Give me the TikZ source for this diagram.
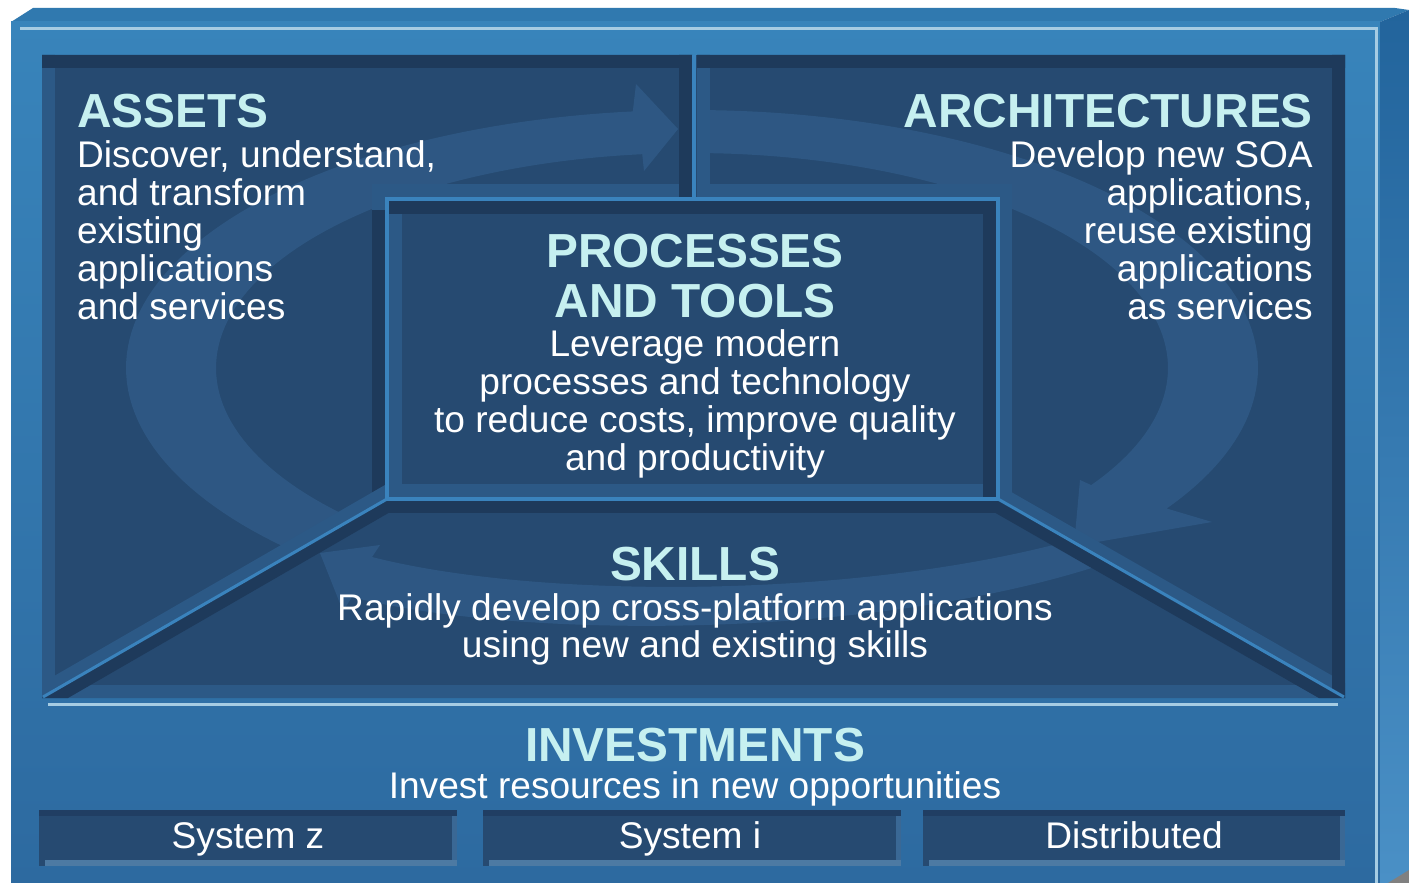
\documentclass[tikz,border=0pt]{standalone}
\usepackage{fontspec}
\setmainfont{Liberation Sans}
\definecolor{frontTop}{HTML}{3884BB}
\definecolor{frontBot}{HTML}{2D6AA0}
\definecolor{topface}{HTML}{3079AF}
\definecolor{sideTop}{HTML}{22649C}
\definecolor{sideBot}{HTML}{4A90C6}
\definecolor{hl}{HTML}{A6CCE3}
\definecolor{panel}{HTML}{264A71}
\definecolor{bdark}{HTML}{1E3A5B}
\definecolor{blight}{HTML}{2C5986}
\definecolor{sepc}{HTML}{3A83BD}
\definecolor{ringc}{HTML}{34618F}
\definecolor{titlec}{HTML}{C6F0F0}
\definecolor{boxtop}{HTML}{203E63}
\definecolor{boxbot}{HTML}{4D7AA3}
\definecolor{boxside}{HTML}{3A6895}
\begin{document}
\begin{tikzpicture}[x=1pt,y=-1pt,
  bev/.style={line width=26pt,line cap=rect},
  ringfill/.style={fill=ringc,fill opacity=0.6},
  sepline/.style={draw=sepc,line width=4pt},
  titletext/.style={font=\fontsize{47.8}{50}\selectfont\bfseries,text=titlec,inner sep=0pt},
  bodytext/.style={font=\fontsize{37.1}{38}\selectfont,text=white,inner sep=0pt},
  sysbox/.style={fill=panel}]
\useasboundingbox (0,0) rectangle (1409,883);
\fill[white] (0,0) rectangle (1409,883);
% outer 3D frame
\fill[topface] (11,22) -- (33,8) -- (1395,8) -- (1409,10) -- (1380,22) -- cycle;
\shade[top color=frontTop,bottom color=frontBot] (11,22) rectangle (1380,883);
\shade[top color=sideTop,bottom color=sideBot] (1380,22) -- (1409,10) -- (1409,883) -- (1380,883) -- cycle;
\draw[hl,line width=3pt] (20,29) -- (1376,29) -- (1376,883);
\draw[hl,line width=3pt] (48,704) -- (1338,704);
\fill[gray] (1409,870) -- (1409,883) -- (1388,883) -- cycle;
% inner panel
\fill[panel] (42,55) rectangle (1345,698);
% ASSETS region: ring and bevels
\begin{scope}
\clip (42,55) -- (692,55) -- (692,197) -- (385,197) -- (385,500) -- (42,698) -- cycle;
\fill[ringfill] plot[domain=120:264,samples=90] ({692+566*cos(\x)},{368+258*sin(\x)})
  -- (636,84) -- (678,129) -- (644,171)
  -- plot[domain=264:120,samples=90] ({692+476*cos(\x)},{368+215*sin(\x)}) -- cycle;
\draw[bev,bdark] (385,197) -- (385,500);
\draw[bev,blight] (42,55) -- (42,698);
\draw[bev,blight] (385,500) -- (42,698);
\draw[bev,blight] (692,197) -- (385,197);
\draw[bev,bdark] (42,55) -- (692,55);
\draw[bev,bdark] (692,55) -- (692,197);
\end{scope}
% ARCHITECTURES region
\begin{scope}
\clip (697,55) -- (1345,55) -- (1345,698) -- (999,500) -- (999,197) -- (697,197) -- cycle;
\fill[ringfill] plot[domain=-100:33,samples=90] ({692+566*cos(\x)},{368+258*sin(\x)})
  -- (1212,522) -- (1074,546) -- (1080,480)
  -- plot[domain=33:-100,samples=90] ({692+476*cos(\x)},{368+215*sin(\x)}) -- cycle;
\draw[bev,blight] (697,55) -- (697,197);
\draw[bev,blight] (697,197) -- (999,197);
\draw[bev,blight] (999,197) -- (999,500);
\draw[bev,blight] (999,500) -- (1345,698);
\draw[bev,bdark] (697,55) -- (1345,55);
\draw[bev,bdark] (1345,55) -- (1345,698);
\end{scope}
% SKILLS region
\begin{scope}
\clip (385,500) -- (999,500) -- (1345,698) -- (42,698) -- cycle;
\fill[ringfill] (1090,535) .. controls (870,600) and (540,600) .. (372,557)
  -- (380,545) -- (320,553) -- (343,611) -- (352,597)
  .. controls (520,640) and (880,640) .. (1110,562) -- cycle;
\draw[bev,blight] (42,698) -- (1345,698);
\draw[bev,bdark] (385,500) -- (999,500);
\draw[bev,bdark] (385,500) -- (42,698);
\draw[bev,bdark] (999,500) -- (1345,698);
\end{scope}
% PROCESSES AND TOOLS box
\begin{scope}
\clip (389,201) rectangle (996,497);
\fill[panel] (389,201) rectangle (996,497);
\draw[bev,blight] (389,201) -- (389,497);
\draw[bev,blight] (389,497) -- (996,497);
\draw[bev,bdark] (389,201) -- (996,201);
\draw[bev,bdark] (996,201) -- (996,497);
\end{scope}
% separators
\draw[sepline] (694,55) -- (694,199);
\draw[sepline] (387,199) rectangle (998,499);
\draw[sepline,line width=3pt] (387,499) -- (43,697);
\draw[sepline,line width=3pt] (998,499) -- (1344,697);
% bottom system boxes
\foreach \a/\b in {39/457,483/901,923/1345}{
  \fill[panel] (\a,810) rectangle (\b,866);
  \fill[boxtop] (\a,810) rectangle (\b,816);
  \fill[boxbot] (\a+6,860) rectangle (\b,866);
  \fill[boxside] (\b-5,816) rectangle (\b,860);
}
% texts (multi-line nodes: base = baseline of the last line)
\node[titletext,anchor=base west] (assetsT) at (77,127) {ASSETS};
\node[bodytext,anchor=base west,align=left] (assetsB) at (77,319)
  {Discover, understand,\\and transform\\existing\\applications\\and services};
\node[titletext,anchor=base east] (archT) at (1313,127) {ARCHITECTURES};
\node[bodytext,anchor=base east,align=right] (archB) at (1313,319)
  {Develop new SOA\\applications,\\reuse existing\\applications\\as services};
\node[titletext,anchor=base,align=center] (procT) at (695,317) {PROCESSES\\AND TOOLS};
\node[bodytext,anchor=base,align=center] (procB) at (695,470)
  {Leverage modern\\processes and technology\\to reduce costs, improve quality\\and productivity};
\node[titletext,anchor=base] (skillT) at (695,580) {SKILLS};
\node[bodytext,anchor=base,align=center,font=\fontsize{37.1}{37}\selectfont] (skillB) at (695,657)
  {Rapidly develop cross-platform applications\\using new and existing skills};
\node[titletext,anchor=base] (invT) at (695,761) {INVESTMENTS};
\node[bodytext,anchor=base] (invB) at (695,798) {Invest resources in new opportunities};
\node[bodytext,anchor=base] (sysz) at (248,848) {System z};
\node[bodytext,anchor=base] (sysi) at (690,848) {System i};
\node[bodytext,anchor=base] (dist) at (1134,848) {Distributed};
\end{tikzpicture}
\end{document}
